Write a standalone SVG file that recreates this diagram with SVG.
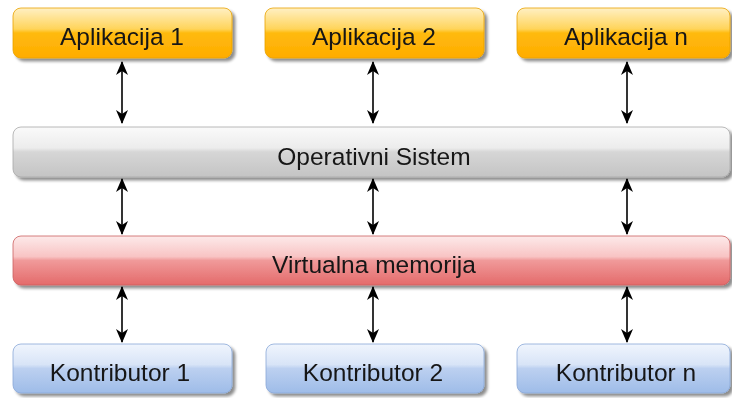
<svg xmlns="http://www.w3.org/2000/svg" width="732" height="398" viewBox="0 0 732 398">
  <defs>
    <linearGradient id="gOrange" x1="0" y1="0" x2="0" y2="1">
      <stop offset="0" stop-color="#fff0c4"/>
      <stop offset="0.42" stop-color="#ffd45a"/>
      <stop offset="0.5" stop-color="#ffba0e"/>
      <stop offset="1" stop-color="#ffac00"/>
    </linearGradient>
    <linearGradient id="gGray" x1="0" y1="0" x2="0" y2="1">
      <stop offset="0" stop-color="#fafafa"/>
      <stop offset="0.42" stop-color="#ececec"/>
      <stop offset="0.5" stop-color="#d6d6d6"/>
      <stop offset="1" stop-color="#c4c4c4"/>
    </linearGradient>
    <linearGradient id="gRed" x1="0" y1="0" x2="0" y2="1">
      <stop offset="0" stop-color="#fdeaea"/>
      <stop offset="0.42" stop-color="#f8c4c4"/>
      <stop offset="0.5" stop-color="#f09a9a"/>
      <stop offset="1" stop-color="#e46a6a"/>
    </linearGradient>
    <linearGradient id="gBlue" x1="0" y1="0" x2="0" y2="1">
      <stop offset="0" stop-color="#f0f5fd"/>
      <stop offset="0.42" stop-color="#d8e4f7"/>
      <stop offset="0.5" stop-color="#bcd0f0"/>
      <stop offset="1" stop-color="#9ebce8"/>
    </linearGradient>
    <filter id="shadow" x="-5%" y="-20%" width="115%" height="160%">
      <feGaussianBlur in="SourceAlpha" stdDeviation="1.5"/>
      <feOffset dx="3" dy="3" result="b"/>
      <feComponentTransfer><feFuncA type="linear" slope="0.45"/></feComponentTransfer>
      <feMerge><feMergeNode/><feMergeNode in="SourceGraphic"/></feMerge>
    </filter>
    <marker id="ah" viewBox="0 0 14 12" refX="13" refY="6" markerWidth="14" markerHeight="12" orient="auto-start-reverse" markerUnits="userSpaceOnUse">
      <path d="M0,0 L14,6 L0,12 L4,6 Z" fill="#000"/>
    </marker>
  </defs>
  <style>
    .box { filter: url(#shadow); }
    .orange { fill: url(#gOrange); stroke: #e9a200; stroke-width: 0.8; }
    .gray { fill: url(#gGray); stroke: #a8a8a8; stroke-width: 0.8; }
    .red { fill: url(#gRed); stroke: #cc6060; stroke-width: 0.8; }
    .blue { fill: url(#gBlue); stroke: #8aa8d8; stroke-width: 0.8; }
    text { font-family: "Liberation Sans", Arial, sans-serif; font-size: 24.5px; fill: #161616; text-anchor: middle; }
    .conn line { stroke: #000; stroke-width: 1.6; marker-start: url(#ah); marker-end: url(#ah); }
  </style>

  <!-- application row -->
  <g id="app1" class="box">
    <rect class="orange" x="13" y="8" width="219" height="50" rx="8"/>
    <text x="122" y="45">Aplikacija 1</text>
  </g>
  <g id="app2" class="box">
    <rect class="orange" x="265" y="8" width="219" height="50" rx="8"/>
    <text x="374" y="45">Aplikacija 2</text>
  </g>
  <g id="appn" class="box">
    <rect class="orange" x="517" y="8" width="213" height="50" rx="8"/>
    <text x="626" y="45">Aplikacija n</text>
  </g>

  <!-- operating system layer -->
  <g id="os" class="box">
    <rect class="gray" x="13" y="127" width="717" height="50" rx="8"/>
    <text x="374" y="164.5">Operativni Sistem</text>
  </g>

  <!-- virtual memory layer -->
  <g id="vmem" class="box">
    <rect class="red" x="13" y="236" width="717" height="49" rx="8"/>
    <text x="374" y="273">Virtualna memorija</text>
  </g>

  <!-- contributor row -->
  <g id="contrib1" class="box">
    <rect class="blue" x="13" y="344" width="219" height="49" rx="8"/>
    <text x="120" y="380.5">Kontributor 1</text>
  </g>
  <g id="contrib2" class="box">
    <rect class="blue" x="266" y="344" width="218" height="49" rx="8"/>
    <text x="373" y="380.5">Kontributor 2</text>
  </g>
  <g id="contribn" class="box">
    <rect class="blue" x="517" y="344" width="213" height="49" rx="8"/>
    <text x="626" y="380.5">Kontributor n</text>
  </g>

  <!-- bidirectional connectors between layers -->
  <g id="connectors" class="conn">
    <line x1="122" y1="62" x2="122" y2="123"/>
    <line x1="373" y1="62" x2="373" y2="123"/>
    <line x1="627" y1="62" x2="627" y2="123"/>
    <line x1="122" y1="179" x2="122" y2="234"/>
    <line x1="373" y1="179" x2="373" y2="234"/>
    <line x1="627" y1="179" x2="627" y2="234"/>
    <line x1="122" y1="287" x2="122" y2="342"/>
    <line x1="373" y1="287" x2="373" y2="342"/>
    <line x1="627" y1="287" x2="627" y2="342"/>
  </g>
</svg>
